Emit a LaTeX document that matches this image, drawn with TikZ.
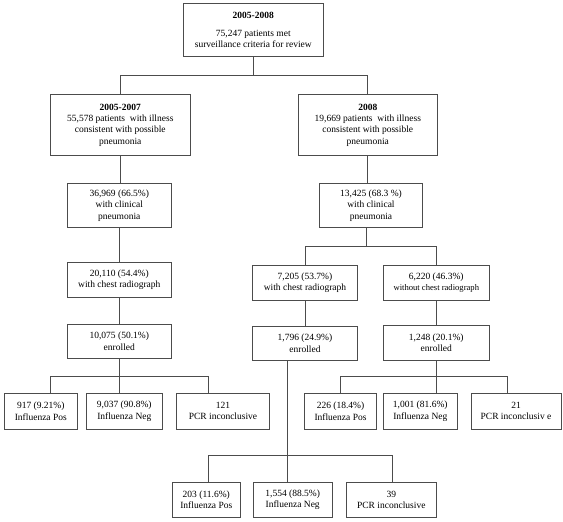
\documentclass[tikz,border=0pt]{standalone}
\usepackage{fontspec}
\setmainfont{Liberation Serif}
\begin{document}
\begin{tikzpicture}[x=1pt,y=-1pt,
  box/.style={draw=black!70, line width=0.8pt, inner sep=0pt, align=center,
    font=\fontsize{9.5}{11.3}\selectfont, text=black},
  link/.style={draw=black!70, line width=0.8pt}]
\fill[white] (0,0) rectangle (563,522);
\useasboundingbox (0,0) rectangle (563,522);

% level 0
\node[box, minimum width=140pt, minimum height=53.4pt] (top) at (253.3,30)
  {\textbf{2005-2008}\\[6pt]75,247 patients met\\surveillance criteria for review};

% level 1
\node[box, minimum width=140.7pt, minimum height=61pt] (L1) at (120.3,125.2)
  {\textbf{2005-2007}\\55,578 patients~ with illness\\consistent with possible\\pneumonia};
\node[box, minimum width=139pt, minimum height=61pt] (R1) at (367.8,125.2)
  {\textbf{2008}\\19,669 patients~ with illness\\consistent with possible\\pneumonia};

% level 2
\node[box, minimum width=103.3pt, minimum height=44.4pt] (L2) at (119.3,205.5)
  {36,969 (66.5\%)\\with clinical\\pneumonia};
\node[box, minimum width=103.4pt, minimum height=44.4pt] (R2) at (371,205.5)
  {13,425 (68.3 \%)\\with clinical\\pneumonia};

% level 3
\node[box, minimum width=103.3pt, minimum height=35pt] (L3) at (119.3,279.8)
  {20,110 (54.4\%)\\with chest radiograph};
\node[box, minimum width=105.4pt, minimum height=34.3pt] (R3a) at (305,282.8)
  {7,205 (53.7\%)\\with chest radiograph};
\node[box, minimum width=105.3pt, minimum height=34.3pt] (R3b) at (436.3,282.8)
  {6,220 (46.3\%)\\{\fontsize{8.6}{11.3}\selectfont without chest radiograph}};

% level 4
\node[box, minimum width=103.3pt, minimum height=34pt] (L4) at (119.3,341.3)
  {10,075 (50.1\%)\\enrolled};
\node[box, minimum width=105.2pt, minimum height=33.3pt] (R4a) at (305,343.3)
  {1,796 (24.9\%)\\enrolled};
\node[box, minimum width=105.3pt, minimum height=34.3pt] (R4b) at (436.3,342.8)
  {1,248 (20.1\%)\\enrolled};

% results 2005-2007
\node[box, minimum width=73.7pt, minimum height=35.7pt] (A1) at (40.8,411.2)
  {917 (9.21\%)\\Influenza Pos};
\node[box, minimum width=76.7pt, minimum height=35.7pt] (A2) at (124.3,411.2)
  {9,037 (90.8\%)\\Influenza Neg};
\node[box, minimum width=92.6pt, minimum height=35.7pt] (A3) at (223,411.2)
  {121\\PCR inconclusive};

% results 2008 without radiograph
\node[box, minimum width=72.4pt, minimum height=35.7pt] (B1) at (340.5,411.2)
  {226 (18.4\%)\\Influenza Pos};
\node[box, minimum width=74pt, minimum height=35.7pt] (B2) at (420.3,411.2)
  {1,001 (81.6\%)\\Influenza Neg};
\node[box, minimum width=90pt, minimum height=35.7pt] (B3) at (516,411.2)
  {21\\PCR inconclusiv e};

% results 2008 with radiograph
\node[box, minimum width=67.3pt, minimum height=35pt] (C1) at (206.3,499.8)
  {203 (11.6\%)\\Influenza Pos};
\node[box, minimum width=78.7pt, minimum height=35pt] (C2) at (292.7,499.8)
  {1,554 (88.5\%)\\Influenza Neg};
\node[box, minimum width=90.7pt, minimum height=35pt] (C3) at (391.3,499.8)
  {39\\PCR inconclusive};

% junction coordinates
\coordinate (j0) at (253.3,75.7);
\coordinate (j1) at (366.7,246.7);
\coordinate (jLa) at (50,376.7);
\coordinate (jLb) at (208.3,376.7);
\coordinate (jRa) at (340,376.7);
\coordinate (jRb) at (507.7,376.7);
\coordinate (jM) at (287.3,455.7);
\coordinate (jCa) at (208.3,455.7);
\coordinate (jCb) at (392.3,455.7);

% connectors
\draw[link] (top.south) -- (j0);
\draw[link] (L1.north) |- (j0) -| (R1.north);

\draw[link] (L1.south) -- (L1.south |- L2.north);
\draw[link] (L2.south) -- (L2.south |- L3.north);
\draw[link] (L3.south) -- (L3.south |- L4.north);

\draw[link] (R1.south) -- (R1.south |- R2.north);
\draw[link] (j1 |- R2.south) -- (j1);
\draw[link] (R3a.north) |- (j1) -| (R3b.north);
\draw[link] (R3a.south) -- (R3a.south |- R4a.north);
\draw[link] (R3b.south) -- (R3b.south |- R4b.north);

\draw[link] (L4.south) -- (L4.south |- A2.north);
\draw[link] (jLa |- A1.north) -- (jLa) -- (jLb) -- (jLb |- A3.north);

\draw[link] (R4b.south) -- (R4b.south |- B2.north);
\draw[link] (jRa |- B1.north) -- (jRa) -- (jRb) -- (jRb |- B3.north);

\draw[link] (jM |- R4a.south) -- (jM |- C2.north);
\draw[link] (jCa |- C1.north) -- (jCa) -- (jCb) -- (jCb |- C3.north);
\end{tikzpicture}
\end{document}
